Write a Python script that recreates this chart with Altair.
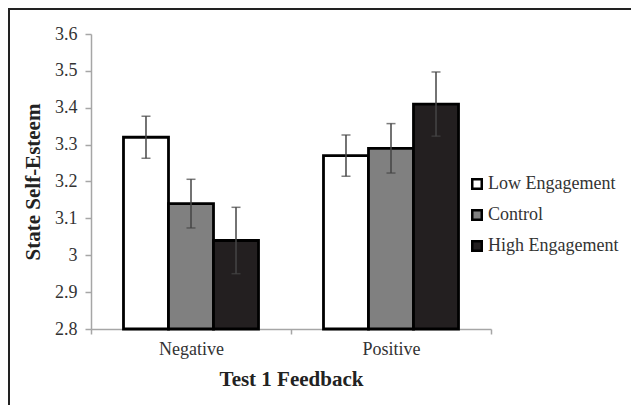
import altair as alt
import pandas as pd

categories = ["Negative", "Positive"]
groups = ["Low Engagement", "Control", "High Engagement"]
means_negative = [3.32, 3.14, 3.04]
means_positive = [3.27, 3.29, 3.41]
err_negative = [0.057, 0.066, 0.09]
err_positive = [0.056, 0.067, 0.087]
fill_colors = ["#ffffff", "#808080", "#231f20"]
y_ticks = [2.8, 2.9, 3.0, 3.1, 3.2, 3.3, 3.4, 3.5, 3.6]

rows = []
for cat, means, errs in [("Negative", means_negative, err_negative),
                         ("Positive", means_positive, err_positive)]:
    for g, m, e in zip(groups, means, errs):
        rows.append({"feedback": cat, "group": g, "mean": m,
                     "lo": m - e, "hi": m + e})
df = pd.DataFrame(rows)

FONT = "Times New Roman, Liberation Serif, serif"

x_enc = alt.X("feedback:N", sort=categories,
              scale=alt.Scale(paddingInner=0, paddingOuter=0),
              axis=alt.Axis(title="Test 1 Feedback", labelAngle=0,
                            tickBand="extent", tickSize=5,
                            labelPadding=6, titlePadding=10))
xo_enc = alt.XOffset("group:N", sort=groups,
                     scale=alt.Scale(paddingInner=0, paddingOuter=0.722))
y_scale = alt.Scale(domain=[2.8, 3.6], zero=False, nice=False)
y_axis = alt.Axis(title="State Self-Esteem", values=y_ticks,
                  format="~g", tickSize=6, labelPadding=8,
                  labelOverlap=False, labelFlush=False, titlePadding=11)

bars = alt.Chart(df).mark_bar(stroke="black", strokeWidth=2.8).encode(
    x=x_enc,
    xOffset=xo_enc,
    y=alt.Y("mean:Q", scale=y_scale, axis=y_axis),
    y2=alt.Y2(datum=2.8),
    color=alt.Color("group:N", sort=groups,
                    scale=alt.Scale(domain=groups, range=fill_colors),
                    legend=alt.Legend(title=None, orient="none",
                                      legendX=377, legendY=141,
                                      symbolType="square", symbolSize=90,
                                      symbolStrokeColor="black",
                                      symbolStrokeWidth=2.5,
                                      symbolOpacity=1,
                                      labelFont=FONT, labelFontSize=18,
                                      labelColor="#333333",
                                      labelOffset=2, rowPadding=11)),
)

err_rule = alt.Chart(df).mark_rule(color="#454545", strokeWidth=1.5).encode(
    x=x_enc, xOffset=xo_enc,
    y=alt.Y("lo:Q", scale=y_scale, axis=y_axis), y2="hi:Q")
cap_hi = alt.Chart(df).mark_tick(color="#454545", thickness=1.5, size=9).encode(
    x=x_enc, xOffset=xo_enc, y=alt.Y("hi:Q", scale=y_scale, axis=y_axis))
cap_lo = alt.Chart(df).mark_tick(color="#454545", thickness=1.5, size=9).encode(
    x=x_enc, xOffset=xo_enc, y=alt.Y("lo:Q", scale=y_scale, axis=y_axis))

frame_top = alt.Chart(df).mark_rule(color="#222222", strokeWidth=2, clip=False).encode(
    x=alt.value(-83), x2=alt.value(540), y=alt.value(-25))
frame_left = alt.Chart(df).mark_rule(color="#222222", strokeWidth=2, clip=False).encode(
    x=alt.value(-82), y=alt.value(-26), y2=alt.value(371))

chart = alt.layer(bars, err_rule, cap_hi, cap_lo, frame_top, frame_left).properties(
    width=400, height=295,
    autosize=alt.AutoSizeParams(type="none"),
    padding={"left": 83, "top": 26, "right": 140, "bottom": 76},
    background="white",
).configure(font=FONT).configure_view(stroke=None).configure_axis(
    grid=False,
    domainColor="#a6a6a6", domainWidth=1.5,
    tickColor="#a6a6a6", tickWidth=1.5,
    labelFont=FONT, labelFontSize=18, labelColor="#333333",
    titleFont=FONT, titleFontSize=21, titleFontWeight="bold",
    titleColor="#222222",
).configure_legend(labelFont=FONT, labelFontSize=18, labelColor="#333333")

chart.save("out.html", embed_options={"renderer": "svg", "actions": False})
